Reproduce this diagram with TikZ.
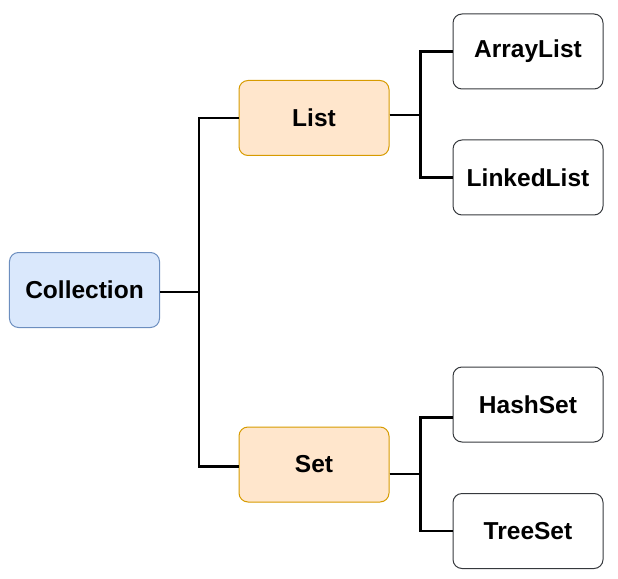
\documentclass[tikz,border=0pt]{standalone}
\usepackage{fontspec}
\setmainfont{Liberation Sans}
\usetikzlibrary{positioning}

\definecolor{rootfill}{HTML}{DAE8FC}
\definecolor{rootline}{HTML}{6C8EBF}
\definecolor{midfill}{HTML}{FFE6CC}
\definecolor{midline}{HTML}{D79B00}
\definecolor{leafline}{HTML}{36393D}

\begin{document}
\begin{tikzpicture}[x = 1bp, y = 1bp, node distance = 63bp,
    box/.style = {rectangle, rounded corners = 9bp, minimum width = 150bp, minimum height = 75bp, line width = 1bp, font = \fontsize{24.6}{28}\selectfont\bfseries},
    root/.style = {box, draw = rootline, fill = rootfill},
    mid/.style = {box, draw = midline, fill = midfill},
    leaf/.style = {box, draw = leafline, fill = white},
    link/.style = {line width = 2.2bp}]
    \useasboundingbox (0,0) rectangle (618,-579);
    \node[root]		(coll)	at (84.5,-290)							{Collection};
    \node[mid]		(list)	[above right=96bp and 78.5bp of coll]	{List};
    \node[mid]		(set)	[below right=98.5bp and 78.5bp of coll]	{Set};
    \node[leaf]		(alist)	[right=of list, yshift=66.5bp]			{ArrayList};
    \node[leaf]		(llist)	[right=of list, yshift=-59.5bp]			{LinkedList};
    \node[leaf]		(hset)	[right=of set, yshift=60bp]				{HashSet};
    \node[leaf]		(tset)	[right=of set, yshift=-66.5bp]			{TreeSet};
    \draw[link]	([yshift=-2bp]coll.east)	-- ++(39bp,0) |- (list.west);
    \draw[link]	([yshift=-2bp]coll.east)	-- ++(39bp,0) |- ([yshift=-2bp]set.west);
    \draw[link]	([yshift=3bp]list.east)		-- ++(31bp,0) |- (alist.west);
    \draw[link]	([yshift=3bp]list.east)		-- ++(31bp,0) |- (llist.west);
    \draw[link]	([yshift=-9.5bp]set.east)	-- ++(31bp,0) |- ([yshift=-13bp]hset.west);
    \draw[link]	([yshift=-9.5bp]set.east)	-- ++(31bp,0) |- (tset.west);
\end{tikzpicture}
\end{document}
